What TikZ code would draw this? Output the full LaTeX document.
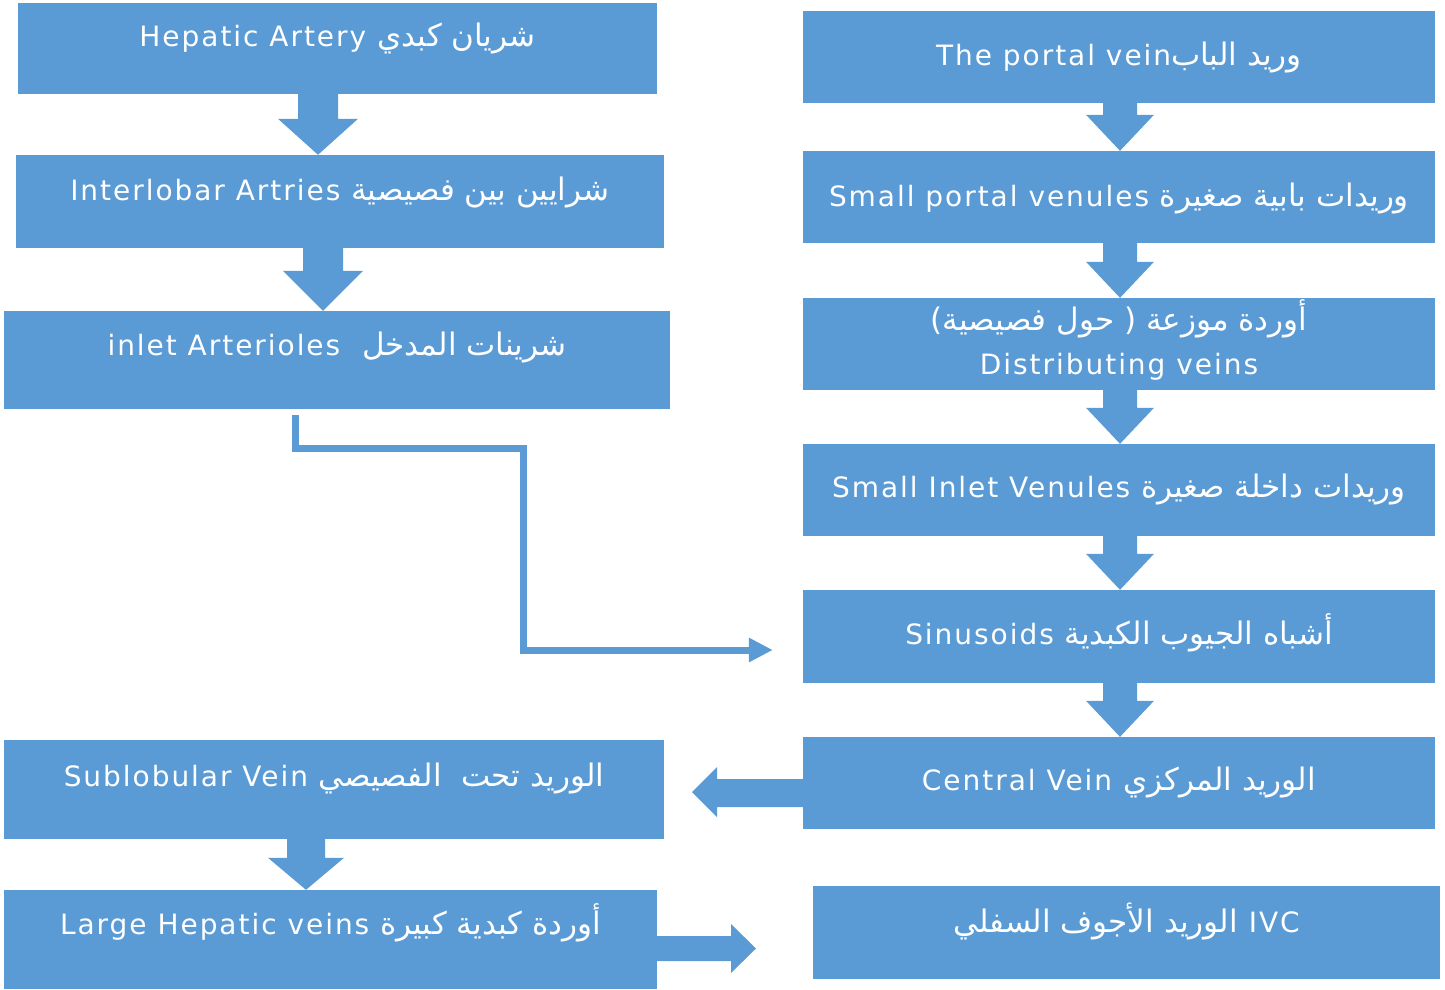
\documentclass[tikz,border=0pt]{standalone}
\usepackage{fontspec}
\setmainfont{DejaVu Sans}[LetterSpace=7]
\newfontfamily\arabicfont[Script=Arabic]{DejaVu Sans}
\TeXXeTstate=1
\usetikzlibrary{arrows.meta,calc}
\definecolor{blu}{HTML}{5B9BD5}
\newcommand{\ar}[1]{{\arabicfont\fontsize{31}{36}\selectfont\beginR #1\endR}}
\newcommand{\bx}[5]{\node[box, minimum width={(#4-#2)*1pt}, minimum height={(#5-#3)*1pt}] (#1) at ({(#2+#4)/2},{(#3+#5)/2}) {};}
% x, from, to, shaft half, head half, head length
\newcommand{\blkdown}[6]{%
  \fill[blk] ($(#1,0 |- #2.south)+(-#4,0)$) -- ($(#1,0 |- #3.north)+(-#4,-#6)$)
    -- ($(#1,0 |- #3.north)+(-#5,-#6)$) -- (#1,0 |- #3.north)
    -- ($(#1,0 |- #3.north)+(#5,-#6)$) -- ($(#1,0 |- #3.north)+(#4,-#6)$)
    -- ($(#1,0 |- #2.south)+(#4,0)$) -- cycle;}
\begin{document}
\begin{tikzpicture}[x=1pt,y=-1pt,
  box/.style={fill=blu, draw=none, inner sep=0pt, rectangle},
  blk/.style={fill=blu},
  lbl/.style={text=white, font=\fontsize{28}{34}\selectfont, anchor=base, inner sep=0pt, align=center},
  conn/.style={draw=blu, line width=7pt, -{Triangle[length=24pt,width=23pt]}}]
\useasboundingbox (0,0) rectangle (1445,989);
% boxes
\bx{L1}{18}{3}{657}{94}
\bx{L2}{16}{155}{664}{248}
\bx{L3}{4}{311}{670}{409}
\bx{L4}{4}{740}{664}{839}
\bx{L5}{4}{890}{657}{989}
\bx{R1}{803}{11}{1435}{103}
\bx{R2}{803}{151}{1435}{243}
\bx{R3}{803}{298}{1435}{390}
\bx{R4}{803}{444}{1435}{536}
\bx{R5}{803}{590}{1435}{683}
\bx{R6}{803}{737}{1435}{829}
\bx{R7}{813}{886}{1440}{979}
% labels
\node[lbl] (t1) at (337.5,46) {Hepatic Artery \ar{شريان كبدي}};
\node[lbl] (t2) at (340,200) {Interlobar Artries \ar{شرايين بين فصيصية}};
\node[lbl] (t3) at (337,355) {inlet Arterioles~~\ar{شرينات المدخل}};
\node[lbl] (t4) at (334,786) {Sublobular Vein \ar{الوريد تحت~~الفصيصي}};
\node[lbl] (t5) at (330.5,934) {Large Hepatic veins \ar{أوردة كبدية كبيرة}};
\node[lbl] (s1) at (1119,65) {The portal vein\ar{وريد الباب}};
\node[lbl] (s2) at (1119,206) {Small portal venules \ar{وريدات بابية صغيرة}};
\node[lbl] (s3a) at (1119,330) {\ar{أوردة موزعة ( حول فصيصية)}};
\node[lbl] (s3b) at (1119,374) {Distributing veins};
\node[lbl] (s4) at (1119,497) {Small Inlet Venules \ar{وريدات داخلة صغيرة}};
\node[lbl] (s5) at (1119,644) {Sinusoids \ar{أشباه الجيوب الكبدية}};
\node[lbl] (s6) at (1119,790) {Central Vein \ar{الوريد المركزي}};
\node[lbl] (s7) at (1126.5,932) {\ar{الوريد الأجوف السفلي} IVC};
% block arrows down
\blkdown{318}{L1}{L2}{20}{40}{36}
\blkdown{323}{L2}{L3}{20}{40}{40}
\blkdown{306}{L4}{L5}{19}{38}{32}
\blkdown{1120}{R1}{R2}{17}{34}{36}
\blkdown{1120}{R2}{R3}{17}{34}{36}
\blkdown{1120}{R3}{R4}{17}{34}{36}
\blkdown{1120}{R4}{R5}{17}{34}{36}
\blkdown{1120}{R5}{R6}{17}{34}{36}
% horizontal block arrows
\fill[blk] (R6.west |- 0,779) -- (717,779) -- (717,767) -- (692,792) -- (717,817) -- (717,807) -- (R6.west |- 0,807) -- cycle;
\fill[blk] (L5.east |- 0,936) -- (731,936) -- (731,924) -- (756,948.5) -- (731,973) -- (731,961) -- (L5.east |- 0,961) -- cycle;
% elbow connector
\coordinate (c1) at ($(295,0 |- L3.south)+(0,6)$);
\coordinate (c2) at ($(R5.west |- 0,650)+(-30,0)$);
\draw[conn] (c1) |- (523,448) |- (c2);
\end{tikzpicture}
\end{document}
